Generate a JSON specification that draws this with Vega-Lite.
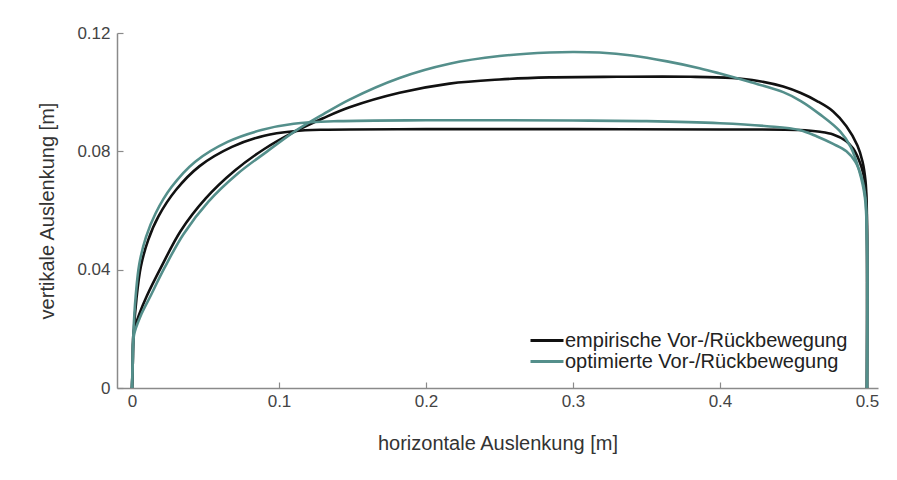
{
  "$schema": "https://vega.github.io/schema/vega-lite/v6.json",
  "width": 761,
  "height": 355,
  "autosize": {"type": "none"},
  "padding": {"left": 117, "top": 33, "right": 19, "bottom": 92},
  "background": "white",
  "config": {
    "view": {"stroke": null},
    "font": "Liberation Sans",
    "axis": {
      "grid": false,
      "domainColor": "#8a8a8a",
      "domainWidth": 1.5,
      "tickColor": "#8a8a8a",
      "tickWidth": 1.2,
      "tickSize": -6,
      "labelColor": "#444444",
      "labelFont": "Liberation Sans",
      "labelFontSize": 17,
      "titleFont": "Liberation Sans",
      "titleFontSize": 20,
      "titleFontWeight": "normal",
      "titleColor": "#333333"
    }
  },
  "data": {
    "values": [
      {"s": "empirische Vor-/Rückbewegung", "b": "A", "i": 0, "x": 0, "y": 0},
      {"s": "empirische Vor-/Rückbewegung", "b": "A", "i": 1, "x": 0.0005, "y": 0.008},
      {"s": "empirische Vor-/Rückbewegung", "b": "A", "i": 2, "x": 0.0012, "y": 0.019},
      {"s": "empirische Vor-/Rückbewegung", "b": "A", "i": 3, "x": 0.003, "y": 0.03},
      {"s": "empirische Vor-/Rückbewegung", "b": "A", "i": 4, "x": 0.006, "y": 0.041},
      {"s": "empirische Vor-/Rückbewegung", "b": "A", "i": 5, "x": 0.011, "y": 0.05},
      {"s": "empirische Vor-/Rückbewegung", "b": "A", "i": 6, "x": 0.018, "y": 0.058},
      {"s": "empirische Vor-/Rückbewegung", "b": "A", "i": 7, "x": 0.03, "y": 0.067},
      {"s": "empirische Vor-/Rückbewegung", "b": "A", "i": 8, "x": 0.046, "y": 0.075},
      {"s": "empirische Vor-/Rückbewegung", "b": "A", "i": 9, "x": 0.068, "y": 0.0815},
      {"s": "empirische Vor-/Rückbewegung", "b": "A", "i": 10, "x": 0.09, "y": 0.0853},
      {"s": "empirische Vor-/Rückbewegung", "b": "A", "i": 11, "x": 0.11, "y": 0.0868},
      {"s": "empirische Vor-/Rückbewegung", "b": "A", "i": 12, "x": 0.13, "y": 0.0873},
      {"s": "empirische Vor-/Rückbewegung", "b": "A", "i": 13, "x": 0.2, "y": 0.0875},
      {"s": "empirische Vor-/Rückbewegung", "b": "A", "i": 14, "x": 0.3, "y": 0.0875},
      {"s": "empirische Vor-/Rückbewegung", "b": "A", "i": 15, "x": 0.4, "y": 0.0874},
      {"s": "empirische Vor-/Rückbewegung", "b": "A", "i": 16, "x": 0.454, "y": 0.0872},
      {"s": "empirische Vor-/Rückbewegung", "b": "A", "i": 17, "x": 0.468, "y": 0.0866},
      {"s": "empirische Vor-/Rückbewegung", "b": "A", "i": 18, "x": 0.477, "y": 0.0857},
      {"s": "empirische Vor-/Rückbewegung", "b": "A", "i": 19, "x": 0.4857, "y": 0.0835},
      {"s": "empirische Vor-/Rückbewegung", "b": "A", "i": 20, "x": 0.4905, "y": 0.081},
      {"s": "empirische Vor-/Rückbewegung", "b": "A", "i": 21, "x": 0.4946, "y": 0.077},
      {"s": "empirische Vor-/Rückbewegung", "b": "A", "i": 22, "x": 0.4975, "y": 0.0725},
      {"s": "empirische Vor-/Rückbewegung", "b": "A", "i": 23, "x": 0.4992, "y": 0.066},
      {"s": "empirische Vor-/Rückbewegung", "b": "A", "i": 24, "x": 0.5, "y": 0.055},
      {"s": "empirische Vor-/Rückbewegung", "b": "A", "i": 25, "x": 0.5, "y": 0},
      {"s": "empirische Vor-/Rückbewegung", "b": "B", "i": 0, "x": 0, "y": 0},
      {"s": "empirische Vor-/Rückbewegung", "b": "B", "i": 1, "x": 0.0005, "y": 0.008},
      {"s": "empirische Vor-/Rückbewegung", "b": "B", "i": 2, "x": 0.0012, "y": 0.019},
      {"s": "empirische Vor-/Rückbewegung", "b": "B", "i": 3, "x": 0.005, "y": 0.025},
      {"s": "empirische Vor-/Rückbewegung", "b": "B", "i": 4, "x": 0.01, "y": 0.031},
      {"s": "empirische Vor-/Rückbewegung", "b": "B", "i": 5, "x": 0.02, "y": 0.041},
      {"s": "empirische Vor-/Rückbewegung", "b": "B", "i": 6, "x": 0.033, "y": 0.053},
      {"s": "empirische Vor-/Rückbewegung", "b": "B", "i": 7, "x": 0.05, "y": 0.064},
      {"s": "empirische Vor-/Rückbewegung", "b": "B", "i": 8, "x": 0.07, "y": 0.0735},
      {"s": "empirische Vor-/Rückbewegung", "b": "B", "i": 9, "x": 0.09, "y": 0.0808},
      {"s": "empirische Vor-/Rückbewegung", "b": "B", "i": 10, "x": 0.11, "y": 0.0865},
      {"s": "empirische Vor-/Rückbewegung", "b": "B", "i": 11, "x": 0.13, "y": 0.0912},
      {"s": "empirische Vor-/Rückbewegung", "b": "B", "i": 12, "x": 0.148, "y": 0.0949},
      {"s": "empirische Vor-/Rückbewegung", "b": "B", "i": 13, "x": 0.182, "y": 0.0998},
      {"s": "empirische Vor-/Rückbewegung", "b": "B", "i": 14, "x": 0.216, "y": 0.1029},
      {"s": "empirische Vor-/Rückbewegung", "b": "B", "i": 15, "x": 0.25, "y": 0.1043},
      {"s": "empirische Vor-/Rückbewegung", "b": "B", "i": 16, "x": 0.284, "y": 0.105},
      {"s": "empirische Vor-/Rückbewegung", "b": "B", "i": 17, "x": 0.33, "y": 0.1052},
      {"s": "empirische Vor-/Rückbewegung", "b": "B", "i": 18, "x": 0.38, "y": 0.1052},
      {"s": "empirische Vor-/Rückbewegung", "b": "B", "i": 19, "x": 0.408, "y": 0.1048},
      {"s": "empirische Vor-/Rückbewegung", "b": "B", "i": 20, "x": 0.426, "y": 0.1038},
      {"s": "empirische Vor-/Rückbewegung", "b": "B", "i": 21, "x": 0.443, "y": 0.1019},
      {"s": "empirische Vor-/Rückbewegung", "b": "B", "i": 22, "x": 0.455, "y": 0.0997},
      {"s": "empirische Vor-/Rückbewegung", "b": "B", "i": 23, "x": 0.466, "y": 0.097},
      {"s": "empirische Vor-/Rückbewegung", "b": "B", "i": 24, "x": 0.477, "y": 0.0935},
      {"s": "empirische Vor-/Rückbewegung", "b": "B", "i": 25, "x": 0.486, "y": 0.0885},
      {"s": "empirische Vor-/Rückbewegung", "b": "B", "i": 26, "x": 0.4935, "y": 0.082},
      {"s": "empirische Vor-/Rückbewegung", "b": "B", "i": 27, "x": 0.497, "y": 0.0765},
      {"s": "empirische Vor-/Rückbewegung", "b": "B", "i": 28, "x": 0.499, "y": 0.07},
      {"s": "empirische Vor-/Rückbewegung", "b": "B", "i": 29, "x": 0.4998, "y": 0.062},
      {"s": "empirische Vor-/Rückbewegung", "b": "B", "i": 30, "x": 0.5, "y": 0.05},
      {"s": "empirische Vor-/Rückbewegung", "b": "B", "i": 31, "x": 0.5, "y": 0},
      {"s": "optimierte Vor-/Rückbewegung", "b": "A", "i": 0, "x": 0, "y": 0},
      {"s": "optimierte Vor-/Rückbewegung", "b": "A", "i": 1, "x": 0.0004, "y": 0.008},
      {"s": "optimierte Vor-/Rückbewegung", "b": "A", "i": 2, "x": 0.001, "y": 0.019},
      {"s": "optimierte Vor-/Rückbewegung", "b": "A", "i": 3, "x": 0.0025, "y": 0.031},
      {"s": "optimierte Vor-/Rückbewegung", "b": "A", "i": 4, "x": 0.005, "y": 0.042},
      {"s": "optimierte Vor-/Rückbewegung", "b": "A", "i": 5, "x": 0.0095, "y": 0.051},
      {"s": "optimierte Vor-/Rückbewegung", "b": "A", "i": 6, "x": 0.016, "y": 0.059},
      {"s": "optimierte Vor-/Rückbewegung", "b": "A", "i": 7, "x": 0.027, "y": 0.068},
      {"s": "optimierte Vor-/Rückbewegung", "b": "A", "i": 8, "x": 0.043, "y": 0.0765},
      {"s": "optimierte Vor-/Rückbewegung", "b": "A", "i": 9, "x": 0.065, "y": 0.0832},
      {"s": "optimierte Vor-/Rückbewegung", "b": "A", "i": 10, "x": 0.088, "y": 0.0872},
      {"s": "optimierte Vor-/Rückbewegung", "b": "A", "i": 11, "x": 0.11, "y": 0.0893},
      {"s": "optimierte Vor-/Rückbewegung", "b": "A", "i": 12, "x": 0.14, "y": 0.0902},
      {"s": "optimierte Vor-/Rückbewegung", "b": "A", "i": 13, "x": 0.2, "y": 0.0905},
      {"s": "optimierte Vor-/Rückbewegung", "b": "A", "i": 14, "x": 0.3, "y": 0.0904},
      {"s": "optimierte Vor-/Rückbewegung", "b": "A", "i": 15, "x": 0.35, "y": 0.0902},
      {"s": "optimierte Vor-/Rückbewegung", "b": "A", "i": 16, "x": 0.4, "y": 0.0895},
      {"s": "optimierte Vor-/Rückbewegung", "b": "A", "i": 17, "x": 0.432, "y": 0.0885},
      {"s": "optimierte Vor-/Rückbewegung", "b": "A", "i": 18, "x": 0.454, "y": 0.0872},
      {"s": "optimierte Vor-/Rückbewegung", "b": "A", "i": 19, "x": 0.466, "y": 0.085},
      {"s": "optimierte Vor-/Rückbewegung", "b": "A", "i": 20, "x": 0.477, "y": 0.0825},
      {"s": "optimierte Vor-/Rückbewegung", "b": "A", "i": 21, "x": 0.486, "y": 0.08},
      {"s": "optimierte Vor-/Rückbewegung", "b": "A", "i": 22, "x": 0.492, "y": 0.0765},
      {"s": "optimierte Vor-/Rückbewegung", "b": "A", "i": 23, "x": 0.4965, "y": 0.071},
      {"s": "optimierte Vor-/Rückbewegung", "b": "A", "i": 24, "x": 0.499, "y": 0.064},
      {"s": "optimierte Vor-/Rückbewegung", "b": "A", "i": 25, "x": 0.5, "y": 0.05},
      {"s": "optimierte Vor-/Rückbewegung", "b": "A", "i": 26, "x": 0.5, "y": 0},
      {"s": "optimierte Vor-/Rückbewegung", "b": "B", "i": 0, "x": 0, "y": 0},
      {"s": "optimierte Vor-/Rückbewegung", "b": "B", "i": 1, "x": 0.0005, "y": 0.008},
      {"s": "optimierte Vor-/Rückbewegung", "b": "B", "i": 2, "x": 0.0014, "y": 0.018},
      {"s": "optimierte Vor-/Rückbewegung", "b": "B", "i": 3, "x": 0.006, "y": 0.0245},
      {"s": "optimierte Vor-/Rückbewegung", "b": "B", "i": 4, "x": 0.012, "y": 0.0305},
      {"s": "optimierte Vor-/Rückbewegung", "b": "B", "i": 5, "x": 0.022, "y": 0.0405},
      {"s": "optimierte Vor-/Rückbewegung", "b": "B", "i": 6, "x": 0.035, "y": 0.052},
      {"s": "optimierte Vor-/Rückbewegung", "b": "B", "i": 7, "x": 0.052, "y": 0.063},
      {"s": "optimierte Vor-/Rückbewegung", "b": "B", "i": 8, "x": 0.072, "y": 0.0725},
      {"s": "optimierte Vor-/Rückbewegung", "b": "B", "i": 9, "x": 0.092, "y": 0.08},
      {"s": "optimierte Vor-/Rückbewegung", "b": "B", "i": 10, "x": 0.11, "y": 0.0865},
      {"s": "optimierte Vor-/Rückbewegung", "b": "B", "i": 11, "x": 0.13, "y": 0.0925},
      {"s": "optimierte Vor-/Rückbewegung", "b": "B", "i": 12, "x": 0.148, "y": 0.0975},
      {"s": "optimierte Vor-/Rückbewegung", "b": "B", "i": 13, "x": 0.182, "y": 0.1048},
      {"s": "optimierte Vor-/Rückbewegung", "b": "B", "i": 14, "x": 0.216, "y": 0.1096},
      {"s": "optimierte Vor-/Rückbewegung", "b": "B", "i": 15, "x": 0.25, "y": 0.1122},
      {"s": "optimierte Vor-/Rückbewegung", "b": "B", "i": 16, "x": 0.284, "y": 0.1134},
      {"s": "optimierte Vor-/Rückbewegung", "b": "B", "i": 17, "x": 0.3, "y": 0.1136},
      {"s": "optimierte Vor-/Rückbewegung", "b": "B", "i": 18, "x": 0.318, "y": 0.1134},
      {"s": "optimierte Vor-/Rückbewegung", "b": "B", "i": 19, "x": 0.34, "y": 0.1124},
      {"s": "optimierte Vor-/Rückbewegung", "b": "B", "i": 20, "x": 0.364, "y": 0.1104},
      {"s": "optimierte Vor-/Rückbewegung", "b": "B", "i": 21, "x": 0.386, "y": 0.1081},
      {"s": "optimierte Vor-/Rückbewegung", "b": "B", "i": 22, "x": 0.4, "y": 0.1063},
      {"s": "optimierte Vor-/Rückbewegung", "b": "B", "i": 23, "x": 0.42, "y": 0.1035},
      {"s": "optimierte Vor-/Rückbewegung", "b": "B", "i": 24, "x": 0.443, "y": 0.1},
      {"s": "optimierte Vor-/Rückbewegung", "b": "B", "i": 25, "x": 0.455, "y": 0.097},
      {"s": "optimierte Vor-/Rückbewegung", "b": "B", "i": 26, "x": 0.468, "y": 0.0925},
      {"s": "optimierte Vor-/Rückbewegung", "b": "B", "i": 27, "x": 0.4816, "y": 0.0868},
      {"s": "optimierte Vor-/Rückbewegung", "b": "B", "i": 28, "x": 0.489, "y": 0.0814},
      {"s": "optimierte Vor-/Rückbewegung", "b": "B", "i": 29, "x": 0.4946, "y": 0.0736},
      {"s": "optimierte Vor-/Rückbewegung", "b": "B", "i": 30, "x": 0.4986, "y": 0.0644},
      {"s": "optimierte Vor-/Rückbewegung", "b": "B", "i": 31, "x": 0.5, "y": 0.05},
      {"s": "optimierte Vor-/Rückbewegung", "b": "B", "i": 32, "x": 0.5, "y": 0}
    ]
  },
  "mark": {"type": "line", "interpolate": "catmull-rom", "strokeWidth": 2.6, "clip": false},
  "encoding": {
    "x": {
      "field": "x",
      "type": "quantitative",
      "scale": {"domain": [-0.0102, 0.5075], "nice": false, "zero": false},
      "axis": {
        "title": "horizontale Auslenkung [m]",
        "values": [0, 0.1, 0.2, 0.3, 0.4, 0.5],
        "labelExpr": "toString(datum.value)",
        "labelPadding": 11,
        "titlePadding": 24
      }
    },
    "y": {
      "field": "y",
      "type": "quantitative",
      "scale": {"domain": [0, 0.12], "nice": false},
      "axis": {
        "title": "vertikale Auslenkung [m]",
        "values": [0, 0.04, 0.08, 0.12],
        "labelExpr": "toString(datum.value)",
        "labelPadding": 13,
        "titlePadding": 19
      }
    },
    "color": {
      "field": "s",
      "type": "nominal",
      "scale": {
        "domain": ["empirische Vor-/Rückbewegung", "optimierte Vor-/Rückbewegung"],
        "range": ["#111111", "#548f8b"]
      },
      "legend": {
        "title": null,
        "orient": "none",
        "legendX": 412,
        "legendY": 298,
        "symbolType": "stroke",
        "symbolSize": 1089,
        "symbolStrokeWidth": 3,
        "clipHeight": 19,
        "labelFont": "Liberation Sans",
        "labelFontSize": 20,
        "labelColor": "#222222",
        "labelLimit": 500,
        "labelOffset": 0,
        "rowPadding": 0
      }
    },
    "detail": {"field": "b", "type": "nominal"},
    "order": {"field": "i", "type": "quantitative"}
  }
}
